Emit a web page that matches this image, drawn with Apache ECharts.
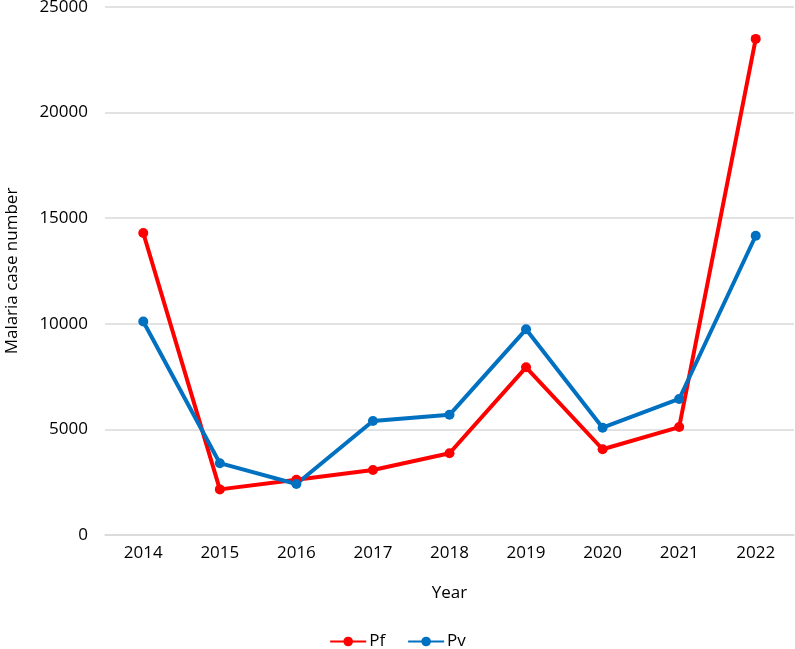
<!DOCTYPE html>
<html>
<head>
<meta charset="utf-8">
<script src="https://cdn.jsdelivr.net/npm/echarts@6/dist/echarts.min.js"></script>
<style>html,body{margin:0;padding:0;background:#fff}#c{width:795px;height:649px}</style>
</head>
<body>
<div id="c"></div>
<script>
const years = ['2014','2015','2016','2017','2018','2019','2020','2021','2022'];
const pf = [14300, 2160, 2620, 3080, 3870, 7940, 4060, 5110, 23490];
const pv = [10110, 3400, 2415, 5400, 5690, 9740, 5080, 6440, 14170];

const chart = echarts.init(document.getElementById('c'));
const font = 'Open Sans';
chart.setOption({
  animation: false,
  textStyle: {fontFamily: font},
  grid: {left: 105, right: 1, top: 7, bottom: 114, containLabel: false, outerBoundsMode: 'none'},
  legend: {
    bottom: -6, left: 'center',
    itemWidth: 36, itemHeight: 12, itemGap: 22,
    textStyle: {fontSize: 17, color: '#000', fontFamily: font, padding: [0,0,0,-2]},
    data: ['Pf', 'Pv']
  },
  xAxis: {
    type: 'category', data: years, boundaryGap: true,
    name: 'Year', nameLocation: 'middle', nameGap: 50,
    nameTextStyle: {fontSize: 17, color: '#000', fontFamily: font},
    axisLine: {show: true, lineStyle: {color: '#D9D9D9', width: 1.5}},
    axisTick: {show: false},
    axisLabel: {fontSize: 17, color: '#000', margin: 10, fontFamily: font}
  },
  yAxis: {
    type: 'value', min: 0, max: 25000, interval: 5000,
    name: 'Malaria case number', nameLocation: 'middle', nameGap: 84,
    nameTextStyle: {fontSize: 17, color: '#000', fontFamily: font},
    axisLine: {show: false}, axisTick: {show: false},
    axisLabel: {fontSize: 17, color: '#000', margin: 17, fontFamily: font, formatter: v => String(v)},
    splitLine: {lineStyle: {color: '#D9D9D9', width: 1.5}}
  },
  series: [
    {name: 'Pf', type: 'line', data: pf, symbol: 'circle', symbolSize: 10,
     lineStyle: {color: '#FF0000', width: 4}, itemStyle: {color: '#FF0000'}},
    {name: 'Pv', type: 'line', data: pv, symbol: 'circle', symbolSize: 10,
     lineStyle: {color: '#0070C0', width: 4}, itemStyle: {color: '#0070C0'}}
  ]
});
</script>
</body>
</html>
